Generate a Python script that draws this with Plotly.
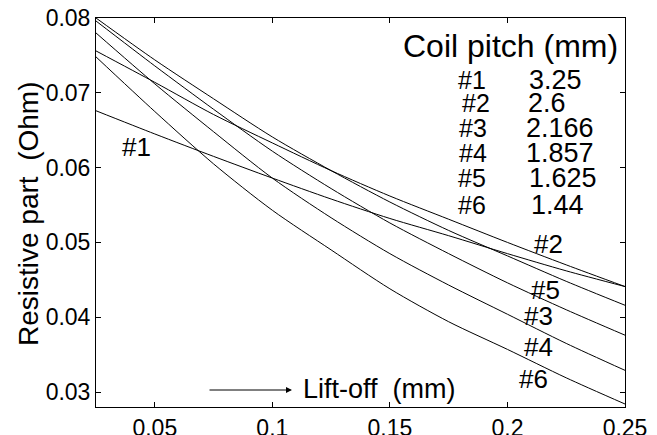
import plotly.graph_objects as go

# Lift-off (mm)
liftoff = [0.025, 0.05, 0.075, 0.1, 0.125, 0.15, 0.175, 0.2, 0.225, 0.25]

# Resistive part (Ohm) per coil
r1 = [0.0676, 0.0645, 0.0615, 0.0586, 0.0558, 0.0532, 0.0509, 0.0485, 0.0462, 0.0441]
r2 = [0.0756, 0.0714, 0.0671, 0.0633, 0.0596, 0.0562, 0.0531, 0.0500, 0.0470, 0.0441]
r3 = [0.0796, 0.0736, 0.0678, 0.0622, 0.0572, 0.0526, 0.0485, 0.0446, 0.0410, 0.0376]
r4 = [0.0780, 0.0712, 0.0648, 0.0586, 0.0533, 0.0485, 0.0443, 0.0404, 0.0365, 0.0329]
r5 = [0.0800, 0.0744, 0.0692, 0.0641, 0.0596, 0.0554, 0.0516, 0.0482, 0.0448, 0.0416]
r6 = [0.0748, 0.0675, 0.0605, 0.0543, 0.0490, 0.0438, 0.0394, 0.0357, 0.0319, 0.0284]
series = [r1, r2, r3, r4, r5, r6]

coil_ids = ["#1", "#2", "#3", "#4", "#5", "#6"]
coil_pitch = ["3.25", "2.6", "2.166", "1.857", "1.625", "1.44"]

x_ticks = [0.05, 0.1, 0.15, 0.2, 0.25]
x_ticklabels = ["0.05", "0.1", "0.15", "0.2", "0.25"]
y_ticks = [0.03, 0.04, 0.05, 0.06, 0.07, 0.08]
y_ticklabels = ["0.03", "0.04", "0.05", "0.06", "0.07", "0.08"]

FONT = "Arial, Liberation Sans, Helvetica, sans-serif"
OFF = 8                       # page body margin in the browser
W, H = 657 - OFF, 435 - OFF   # figure size so it fills the window
# plot box in window pixels: x 96..625, y 18..407
L, R, T, B = 96 - OFF, 657 - 625, 18 - OFF, 435 - 407
PW, PH = W - L - R, H - T - B


def pxx(x):
    """window pixel x -> paper fraction"""
    return (x - OFF - L) / PW


def pxy(y):
    """window pixel y -> paper fraction"""
    return (H - B - (y - OFF)) / PH


fig = go.Figure()
for name, vals in zip(coil_ids, series):
    fig.add_trace(go.Scatter(
        x=liftoff, y=vals, mode="lines", name=name,
        line=dict(color="black", width=1, shape="spline", smoothing=0.8),
        showlegend=False, hoverinfo="skip"))

ann = []
# curve labels (window pixel centers)
curve_label_pos = {"#1": (136, 147), "#2": (548, 244), "#5": (545, 290),
                   "#3": (538, 316), "#4": (538, 347), "#6": (533, 379)}
for lab, (cx, cy) in curve_label_pos.items():
    ann.append(dict(x=pxx(cx), y=pxy(cy), xref="paper", yref="paper",
                    text=lab, showarrow=False, xanchor="center", yanchor="middle",
                    font=dict(family=FONT, size=26, color="black")))

# table title
ann.append(dict(x=pxx(510), y=pxy(46), xref="paper", yref="paper",
                text="Coil pitch (mm)", showarrow=False, xanchor="center",
                yanchor="middle", font=dict(family=FONT, size=32, color="black")))
row_y = [80, 103, 128, 153, 178, 205]
id_x = [472, 476, 473, 473, 472, 472]
val_x = [527, 526, 524, 524, 527, 529]
for i in range(6):
    ann.append(dict(x=pxx(id_x[i]), y=pxy(row_y[i]), xref="paper", yref="paper",
                    text=coil_ids[i], showarrow=False, xanchor="center",
                    yanchor="middle", font=dict(family=FONT, size=25, color="black")))
    ann.append(dict(x=pxx(val_x[i]), y=pxy(row_y[i]), xref="paper", yref="paper",
                    text=coil_pitch[i], showarrow=False, xanchor="left",
                    yanchor="middle", font=dict(family=FONT, size=27, color="black")))

# Lift-off label with arrow
ann.append(dict(x=pxx(301), y=pxy(389), xref="paper", yref="paper",
                text="Lift-off  (mm)", showarrow=False, xanchor="left",
                yanchor="middle", font=dict(family=FONT, size=27, color="black")))
ann.append(dict(x=pxx(292), y=pxy(390), ax=-84, ay=0,
                xref="paper", yref="paper", axref="pixel", ayref="pixel",
                text="", showarrow=True, arrowhead=2, arrowsize=1.2,
                arrowwidth=1, arrowcolor="black"))

# y-axis title
ann.append(dict(x=pxx(28), y=pxy(214), xref="paper", yref="paper",
                text="Resistive part  (Ohm)", showarrow=False, textangle=-90,
                xanchor="center", yanchor="middle",
                font=dict(family=FONT, size=28, color="black")))

axis_common = dict(showline=True, linecolor="black", linewidth=1, mirror="ticks",
                   ticks="inside", ticklen=5, tickwidth=1, tickcolor="black",
                   showgrid=False, zeroline=False, automargin=False,
                   ticklabeloverflow="allow",
                   tickfont=dict(family=FONT, size=23, color="black"))

fig.update_layout(
    width=W, height=H,
    margin=dict(l=L, r=R, t=T, b=B, autoexpand=False),
    paper_bgcolor="white", plot_bgcolor="white",
    xaxis=dict(range=[0.025, 0.25], tickvals=x_ticks, ticktext=x_ticklabels,
               **axis_common),
    yaxis=dict(range=[0.028, 0.08], tickvals=y_ticks, ticktext=y_ticklabels,
               **axis_common),
    annotations=ann,
)

fig.write_html("out.html")
